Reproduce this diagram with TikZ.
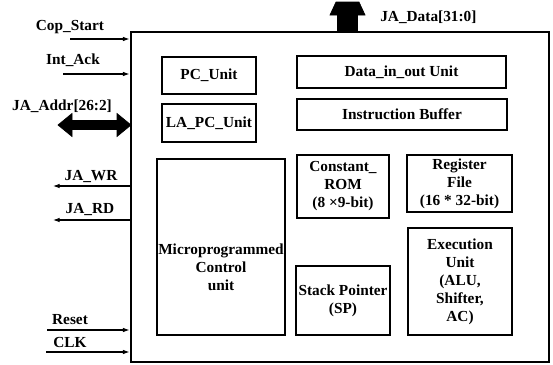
\documentclass[tikz,border=0pt]{standalone}
\usepackage{fontspec}
\setmainfont{Liberation Serif}
\usetikzlibrary{arrows.meta}
\begin{document}
\begin{tikzpicture}[x=0.75pt,y=-0.75pt,
  blk/.style={draw, line width=0.8pt, inner sep=1pt, align=center,
    font=\bfseries\fontsize{11.5}{13.5}\selectfont},
  lbl/.style={font=\bfseries\fontsize{11.5}{13}\selectfont, inner sep=0pt},
  sig/.style={line width=0.8pt, -{Latex[length=5pt,width=3.5pt]}},
  bus/.style={fill=black, draw=black, line width=0.5pt, line join=miter}]
\useasboundingbox (0,0) rectangle (553,364);
% main box
\node[draw, line width=2.2pt, minimum width=313.5pt, minimum height=247.5pt, inner sep=0pt] (main) at (340,197) {};
% inner blocks
\node[blk, minimum width=70.5pt, minimum height=27.75pt] (pc) at (209,75.5) {PC\_Unit};
\node[blk, minimum width=70.5pt, minimum height=28.5pt] (lapc) at (209,123) {LA\_PC\_Unit};
\node[blk, minimum width=96pt, minimum height=132pt,
  label={[blk, draw=none, anchor=center, yshift=-15.5pt]center:Microprogrammed\\Control\\unit}] (mcu) at (221,247) {};
\node[blk, minimum width=156.75pt, minimum height=24pt] (dio) at (401.5,72) {Data\_in\_out Unit};
\node[blk, minimum width=157.5pt, minimum height=23.25pt] (ib) at (402,114.5) {Instruction Buffer};
\node[blk, minimum width=69pt, minimum height=47.25pt] (rom) at (343,186.5) {Constant\_\\ROM\\(8 ×9-bit)};
\node[blk, minimum width=78.75pt, minimum height=42.75pt] (rf) at (459.5,183.5) {Register\\File\\(16 * 32-bit)};
\node[blk, minimum width=78pt, minimum height=80.25pt] (eu) at (460,281.5) {Execution\\Unit\\(ALU,\\Shifter,\\AC)};
\node[blk, minimum width=70.5pt, minimum height=51.75pt] (sp) at (343,300.5) {Stack Pointer\\(SP)};
% signal labels
\node[lbl] (lcop) at (70,27) {Cop\_Start};
\node[lbl] (lint) at (73,60) {Int\_Ack};
\node[lbl] (laddr) at (62,106) {JA\_Addr[26:2]};
\node[lbl] (lwr) at (91,177) {JA\_WR};
\node[lbl] (lrd) at (90,210) {JA\_RD};
\node[lbl] (lrst) at (70,320) {Reset};
\node[lbl] (lclk) at (70,342) {CLK};
\node[lbl, anchor=west] (ldata) at (380,17) {JA\_Data[31:0]};
% signal lines
\coordinate (cop) at (70,39);
\coordinate (int) at (63,74);
\coordinate (wr) at (53,186);
\coordinate (rd) at (53,220);
\coordinate (rst) at (47,330);
\coordinate (clk) at (46,352);
\draw[sig] (cop) -- (cop -| main.west);
\draw[sig] (int) -- (int -| main.west);
\draw[sig] (wr -| main.west) -- (wr);
\draw[sig] (rd -| main.west) -- (rd);
\draw[sig] (rst) -- (rst -| main.west);
\draw[sig] (clk) -- (clk -| main.west);
% buses
\draw[bus] (58,125) -- (72,113.5) -- (72,120.5) -- (117,120.5) -- (117,113.5) -- (131,125)
  -- (117,136.5) -- (117,129.5) -- (72,129.5) -- (72,136.5) -- cycle;
\draw[bus] (336,2) -- (359,2) -- (365,15) -- (357.5,15) -- (357.5,32) -- (337.5,32) -- (337.5,15) -- (330,15) -- cycle;
\end{tikzpicture}
\end{document}
